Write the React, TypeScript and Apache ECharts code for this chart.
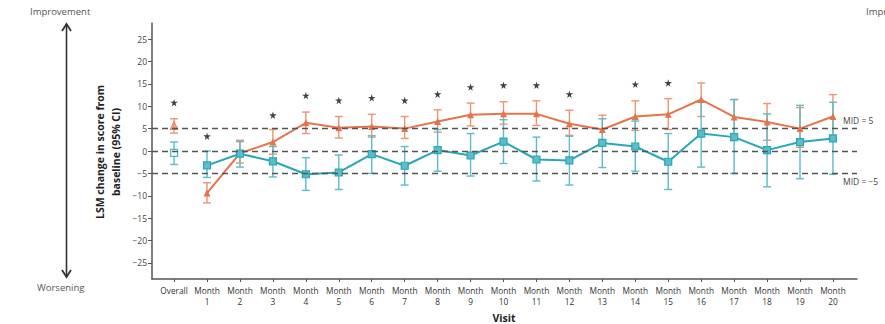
import React, { useEffect, useRef } from "react";
import * as echarts from "echarts";

// Visits along the x axis
const visits = [
  "Overall", "Month 1", "Month 2", "Month 3", "Month 4", "Month 5", "Month 6", "Month 7",
  "Month 8", "Month 9", "Month 10", "Month 11", "Month 12", "Month 13", "Month 14",
  "Month 15", "Month 16", "Month 17", "Month 18", "Month 19", "Month 20",
];

// Orange series (triangles): LSM change and 95% CI
const orangeMean = [5.7, -9.4, -0.5, 2.0, 6.3, 5.2, 5.5, 5.0, 6.6, 8.1, 8.3, 8.3, 6.1, 4.8, 7.7, 8.2, 11.5, 7.6, 6.5, 5.0, 7.7];
const orangeLow = [4.0, -11.6, -2.7, -0.7, 3.9, 2.9, 3.1, 2.8, 4.2, 5.6, 6.0, 5.7, 3.5, 2.0, 4.6, 4.8, 7.7, 3.9, 2.4, 0.8, 3.0];
const orangeHigh = [7.2, -7.1, 2.4, 4.8, 8.7, 7.7, 8.2, 7.7, 9.2, 10.7, 11.0, 11.2, 9.1, 8.0, 11.2, 11.7, 15.2, 11.5, 10.6, 9.7, 12.6];

// Teal series (squares): LSM change and 95% CI
const tealMean = [-0.4, -3.2, -0.6, -2.3, -5.2, -4.8, -0.7, -3.3, 0.2, -1.0, 2.1, -1.9, -2.1, 1.8, 1.0, -2.4, 3.9, 3.1, 0.2, 2.0, 2.8];
const tealLow = [-3.0, -5.9, -3.6, -5.8, -8.8, -8.6, -5.0, -7.6, -4.5, -5.6, -2.8, -6.7, -7.6, -3.7, -4.5, -8.6, -3.6, -5.0, -8.0, -6.2, -5.2];
const tealHigh = [2.0, 0.0, 2.1, 1.0, -1.5, -0.9, 3.4, 1.0, 4.8, 3.9, 7.0, 3.1, 3.3, 7.2, 6.7, 3.9, 10.9, 11.5, 8.3, 10.2, 10.9];

// Significance markers: [visit index, y position]
const starMarks = [
  [0, 10.8], [1, 3.3], [3, 8.0], [4, 12.4], [5, 11.3], [6, 11.9], [7, 11.3], [8, 12.7],
  [9, 14.3], [10, 14.7], [11, 14.7], [12, 12.7], [14, 14.9], [15, 15.2],
];

// Minimal important difference reference lines
const midLines = [5, 0, -5];
const yTicks = [-25, -20, -15, -10, -5, 0, 5, 10, 15, 20, 25];
const xTicks = visits.map((_, i) => i);

const ORANGE = "#e5744c";
const ORANGE_LIGHT = "#ec9475";
const TEAL = "#2aa6b6";
const TEAL_LIGHT = "#5cbcc8";
const STAR_PATH =
  "path://M50,0 L61,35 L98,35 L68,57 L79,91 L50,70 L21,91 L32,57 L2,35 L39,35 Z";
const FONT = "Open Sans, sans-serif";

function errorBars(color: string, low: number[], high: number[]) {
  return {
    type: "custom",
    silent: true,
    z: 3,
    data: low.map((l, i) => [i, l, high[i]]),
    renderItem: (_params: any, api: any) => {
      const x = api.value(0);
      const lo = api.coord([x, api.value(1)]);
      const hi = api.coord([x, api.value(2)]);
      const cap = 4;
      const style = { stroke: color, lineWidth: 1.4 };
      return {
        type: "group",
        children: [
          { type: "line", shape: { x1: lo[0], y1: lo[1], x2: hi[0], y2: hi[1] }, style },
          { type: "line", shape: { x1: lo[0] - cap, y1: lo[1], x2: lo[0] + cap, y2: lo[1] }, style },
          { type: "line", shape: { x1: hi[0] - cap, y1: hi[1], x2: hi[0] + cap, y2: hi[1] }, style },
        ],
      };
    },
  };
}

export default function App() {
  const ref = useRef<HTMLDivElement>(null);

  useEffect(() => {
    if (!ref.current) return;
    const chart = echarts.init(ref.current, null, { renderer: "svg" });
    const monthIdx = xTicks.slice(1);
    const textColor = "#444";

    chart.setOption({
      animation: false,
      backgroundColor: "#ffffff",
      grid: { left: 152, right: 28, top: 23, bottom: 45, containLabel: false },
      xAxis: {
        type: "value",
        min: -0.67,
        max: 20.73,
        splitLine: { show: false },
        axisLine: { show: true, onZero: false, lineStyle: { color: "#555", width: 1.5 } },
        axisTick: { show: true, length: 3, customValues: xTicks, lineStyle: { color: "#555" } },
        axisLabel: {
          customValues: xTicks,
          margin: 6,
          fontSize: 8.3,
          lineHeight: 11,
          color: "#333",
          fontFamily: FONT,
          formatter: (v: number) => visits[Math.round(v)].replace(" ", "\n"),
        },
      },
      yAxis: {
        type: "value",
        min: -28.6,
        max: 28.6,
        splitLine: { show: false },
        axisLine: { show: true, onZero: false, lineStyle: { color: "#555", width: 1.5 } },
        axisTick: { show: true, length: 4, customValues: yTicks, lineStyle: { color: "#555" } },
        axisLabel: {
          customValues: yTicks,
          margin: 5,
          fontSize: 8.5,
          color: "#444",
          fontFamily: FONT,
          formatter: (v: number) => (v < 0 ? "\u2212" + Math.abs(v) : String(v)),
        },
      },
      series: [
        {
          type: "line",
          data: [],
          silent: true,
          markLine: {
            silent: true,
            symbol: "none",
            label: { show: false },
            lineStyle: { color: "#555", type: [6, 4], width: 1.3 },
            data: midLines.map((v) => ({ yAxis: v })),
          },
          z: 1,
        },
        errorBars(ORANGE_LIGHT, orangeLow, orangeHigh),
        errorBars(TEAL_LIGHT, tealLow, tealHigh),
        {
          name: "orange",
          type: "line",
          z: 4,
          data: monthIdx.map((i) => [i, orangeMean[i]]),
          symbol: "triangle",
          symbolSize: 7,
          lineStyle: { color: ORANGE, width: 2 },
          itemStyle: { color: ORANGE },
        },
        {
          name: "teal",
          type: "line",
          z: 4,
          data: monthIdx.map((i) => [i, tealMean[i]]),
          symbol: "rect",
          symbolSize: 7,
          lineStyle: { color: TEAL, width: 2 },
          itemStyle: { color: TEAL_LIGHT, borderColor: TEAL, borderWidth: 1.2 },
        },
        {
          type: "scatter",
          z: 4,
          data: [[0, orangeMean[0]]],
          symbol: "triangle",
          symbolSize: 8,
          itemStyle: { color: ORANGE_LIGHT, borderColor: ORANGE, borderWidth: 1 },
        },
        {
          type: "scatter",
          z: 4,
          data: [[0, tealMean[0]]],
          symbol: "rect",
          symbolSize: 7,
          itemStyle: { color: "#ffffff", borderColor: TEAL, borderWidth: 1.3 },
        },
        {
          type: "scatter",
          z: 5,
          data: starMarks,
          symbol: STAR_PATH,
          symbolSize: 7.5,
          itemStyle: { color: "#111" },
        },
      ],
      graphic: [
        {
          type: "text",
          left: 30,
          top: 6,
          style: { text: "Improvement", fontSize: 9.5, fill: "#555", fontFamily: FONT },
        },
        {
          type: "text",
          left: 866,
          top: 6,
          style: { text: "Improvement", fontSize: 9.5, fill: "#555", fontFamily: FONT },
        },
        {
          type: "text",
          left: 37,
          top: 282,
          style: { text: "Worsening", fontSize: 9.5, fill: "#555", fontFamily: FONT },
        },
        { type: "line", shape: { x1: 66.5, y1: 24, x2: 66.5, y2: 277 }, style: { stroke: "#333", lineWidth: 1.6 } },
        { type: "polyline", shape: { points: [[62, 31], [66.5, 24], [71, 31]] }, style: { stroke: "#333", lineWidth: 1.8, fill: null } },
        { type: "polyline", shape: { points: [[62, 270], [66.5, 277], [71, 270]] }, style: { stroke: "#333", lineWidth: 1.8, fill: null } },
        {
          type: "text",
          x: 108,
          y: 152,
          rotation: Math.PI / 2,
          style: {
            text: "LSM change in score from\nbaseline (95% CI)",
            fontSize: 10.5,
            fontWeight: "bold",
            lineHeight: 16,
            align: "center",
            verticalAlign: "middle",
            fill: "#222",
            fontFamily: FONT,
          },
        },
        {
          type: "text",
          x: 504,
          y: 312,
          style: {
            text: "Visit",
            fontSize: 10.5,
            fontWeight: "bold",
            align: "center",
            verticalAlign: "top",
            fill: "#222",
            fontFamily: FONT,
          },
        },
        {
          type: "text",
          x: 843,
          y: 120,
          style: { text: "MID = 5", fontSize: 8.5, fill: textColor, verticalAlign: "middle", fontFamily: FONT },
        },
        {
          type: "text",
          x: 843,
          y: 181,
          style: { text: "MID = \u22125", fontSize: 8.5, fill: textColor, verticalAlign: "middle", fontFamily: FONT },
        },
      ],
    });

    return () => chart.dispose();
  }, []);

  return <div ref={ref} style={{ width: 885, height: 324, position: "absolute", left: 0, top: 0 }} />;
}
